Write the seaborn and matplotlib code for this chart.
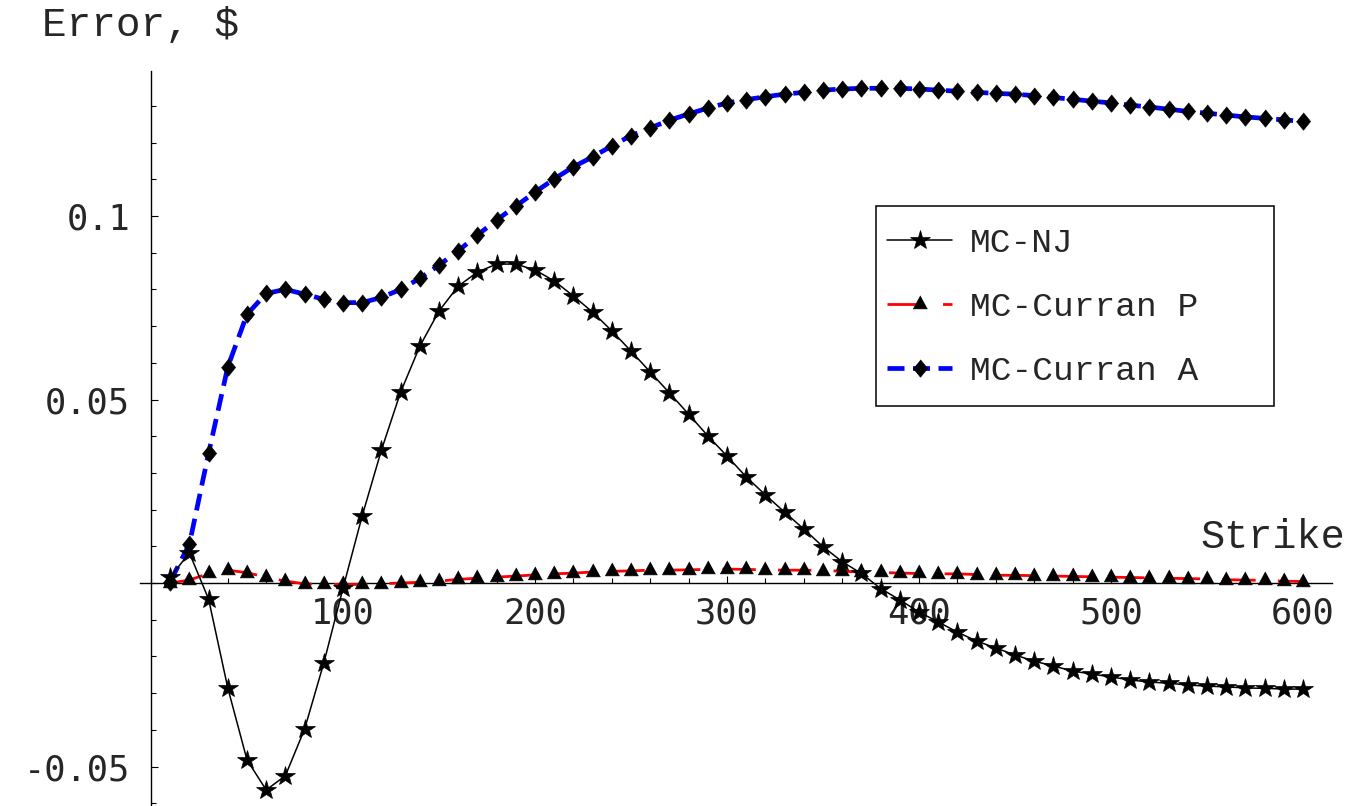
import numpy as np
import pandas as pd
import matplotlib
matplotlib.use('Agg')
import matplotlib.pyplot as plt
import seaborn as sns
from matplotlib.ticker import MultipleLocator, FixedLocator, FixedFormatter
from matplotlib.patches import Rectangle

# Strike grid and errors
strike = [10, 20, 30, 40, 50, 60, 70, 80, 90, 100,
          110, 120, 130, 140, 150, 160, 170, 180, 190, 200,
          210, 220, 230, 240, 250, 260, 270, 280, 290, 300,
          310, 320, 330, 340, 350, 360, 370, 380, 390, 400,
          410, 420, 430, 440, 450, 460, 470, 480, 490, 500,
          510, 520, 530, 540, 550, 560, 570, 580, 590, 600]

mc_nj = [0.0016, 0.0082, -0.0044, -0.0286, -0.0482, -0.0564, -0.0525, -0.0398, -0.0218, -0.0014,
         0.0183, 0.0362, 0.0520, 0.0645, 0.0741, 0.0809, 0.0847, 0.0869, 0.0869, 0.0853,
         0.0823, 0.0782, 0.0738, 0.0687, 0.0632, 0.0575, 0.0518, 0.0460, 0.0401, 0.0346,
         0.0289, 0.0240, 0.0193, 0.0147, 0.0099, 0.0058, 0.0026, -0.0015, -0.0046, -0.0079,
         -0.0106, -0.0134, -0.0158, -0.0177, -0.0196, -0.0213, -0.0226, -0.0240, -0.0248, -0.0256,
         -0.0264, -0.0270, -0.0273, -0.0278, -0.0281, -0.0283, -0.0286, -0.0287, -0.0289, -0.0289]

mc_curran_p = [0.0000, 0.0008, 0.0026, 0.0035, 0.0028, 0.0016, 0.0005, -0.0002, -0.0004, -0.0004,
               -0.0004, -0.0002, 0.0000, 0.0002, 0.0005, 0.0010, 0.0013, 0.0016, 0.0019, 0.0022,
               0.0025, 0.0027, 0.0030, 0.0032, 0.0033, 0.0035, 0.0035, 0.0036, 0.0037, 0.0038,
               0.0037, 0.0036, 0.0035, 0.0035, 0.0034, 0.0032, 0.0030, 0.0029, 0.0027, 0.0026,
               0.0025, 0.0025, 0.0023, 0.0021, 0.0021, 0.0020, 0.0019, 0.0018, 0.0017, 0.0016,
               0.0015, 0.0014, 0.0013, 0.0012, 0.0011, 0.0009, 0.0008, 0.0007, 0.0005, 0.0004]

mc_curran_a = [0.0004, 0.0106, 0.0354, 0.0589, 0.0732, 0.0789, 0.0800, 0.0787, 0.0773, 0.0764,
               0.0764, 0.0778, 0.0800, 0.0830, 0.0866, 0.0905, 0.0948, 0.0989, 0.1027, 0.1065,
               0.1101, 0.1134, 0.1161, 0.1191, 0.1219, 0.1240, 0.1261, 0.1278, 0.1294, 0.1308,
               0.1317, 0.1325, 0.1332, 0.1337, 0.1343, 0.1346, 0.1348, 0.1348, 0.1348, 0.1346,
               0.1343, 0.1340, 0.1337, 0.1334, 0.1332, 0.1328, 0.1323, 0.1318, 0.1313, 0.1308,
               0.1302, 0.1297, 0.1291, 0.1285, 0.1280, 0.1275, 0.1270, 0.1266, 0.1262, 0.1258]

x_ticks = [100, 200, 300, 400, 500, 600]
y_ticks = [-0.05, 0.05, 0.1]
y_tick_labels = ['-0.05', '0.05', '0.1']

sns.set_style('white')
plt.rcParams['font.family'] = ['Liberation Mono', 'DejaVu Sans Mono']

W, H = 1354, 806
fig = plt.figure(figsize=(W / 100, H / 100), dpi=100)
ax = fig.add_axes([140 / W, 0, (1332 - 140) / W, 1 - 71 / H])

data = pd.DataFrame({'strike': strike, 'nj': mc_nj, 'p': mc_curran_p, 'a': mc_curran_a})

# markers centred the way Mathematica centres them
tri = [(0, 8), (-6.5, -4), (6.5, -4)]
diam = [(0, 8), (6.5, 0), (0, -8), (-6.5, 0)]

sns.lineplot(data=data, x='strike', y='nj', ax=ax, color='black', linewidth=1.1,
             marker='*', markersize=14.5, markerfacecolor='black', markeredgecolor='black',
             markeredgewidth=0.5, label='MC-NJ', legend=False, zorder=4)
sns.lineplot(data=data, x='strike', y='p', ax=ax, color='red', linewidth=2.0,
             linestyle=(0, (12, 8)), marker=tri, markersize=12.5, markerfacecolor='black',
             markeredgecolor='black', markeredgewidth=0.5, label='MC-Curran P',
             legend=False, zorder=3)
sns.lineplot(data=data, x='strike', y='a', ax=ax, color='blue', linewidth=3.4,
             linestyle=(0, (3.6, 1.8)), marker=diam, markersize=12.5, markerfacecolor='black',
             markeredgecolor='black', markeredgewidth=0.5, label='MC-Curran A',
             legend=False, zorder=3)

ax.set_xlim(-5.73, 615.1)
ax.set_ylim(-0.06076, 0.13951)

# axes crossing at the origin
for s in ['top', 'right']:
    ax.spines[s].set_visible(False)
ax.spines['left'].set_position(('data', 0))
ax.spines['bottom'].set_position(('data', 0))
for s in ['left', 'bottom']:
    ax.spines[s].set_linewidth(1.0)
    ax.spines[s].set_color('black')

ax.xaxis.set_major_locator(FixedLocator(x_ticks))
ax.xaxis.set_minor_locator(MultipleLocator(20))
ax.yaxis.set_major_locator(FixedLocator(y_ticks))
ax.yaxis.set_major_formatter(FixedFormatter(y_tick_labels))
ax.yaxis.set_minor_locator(MultipleLocator(0.01))
ax.tick_params(which='both', bottom=True, left=True, top=False, right=False,
               direction='in', color='black', width=0.8)
ax.tick_params(which='major', length=5)
ax.tick_params(which='minor', length=3.6)
ax.tick_params(axis='x', pad=10)
ax.tick_params(axis='y', pad=15)
for lab in ax.get_xticklabels() + ax.get_yticklabels():
    lab.set_fontfamily('DejaVu Sans Mono')
    lab.set_fontsize(25.5)
ax.set_xlabel('')
ax.set_ylabel('')
ax.grid(False)

fig.text(42 / W, 1 - 25 / H, 'Error, $', fontsize=29.5, ha='left', va='center',
         parse_math=False)
fig.text(1200 / W, 1 - 537 / H, 'Strike', fontsize=29, ha='left', va='center')

# legend box drawn by hand, entries placed inside
fig.add_artist(Rectangle((876 / W, 1 - 406 / H), 398 / W, 200 / H, transform=fig.transFigure,
                         fill=False, edgecolor='black', linewidth=1.1))
ax.legend(loc='upper left', bbox_to_anchor=(887 / W, 1 - 228 / H), bbox_transform=fig.transFigure,
          frameon=False, borderaxespad=0, borderpad=0, handlelength=1.9, handletextpad=0.5,
          labelspacing=0.95, numpoints=1, prop={'family': 'Liberation Mono', 'size': 24.8})

fig.savefig('out.png', dpi=100)
